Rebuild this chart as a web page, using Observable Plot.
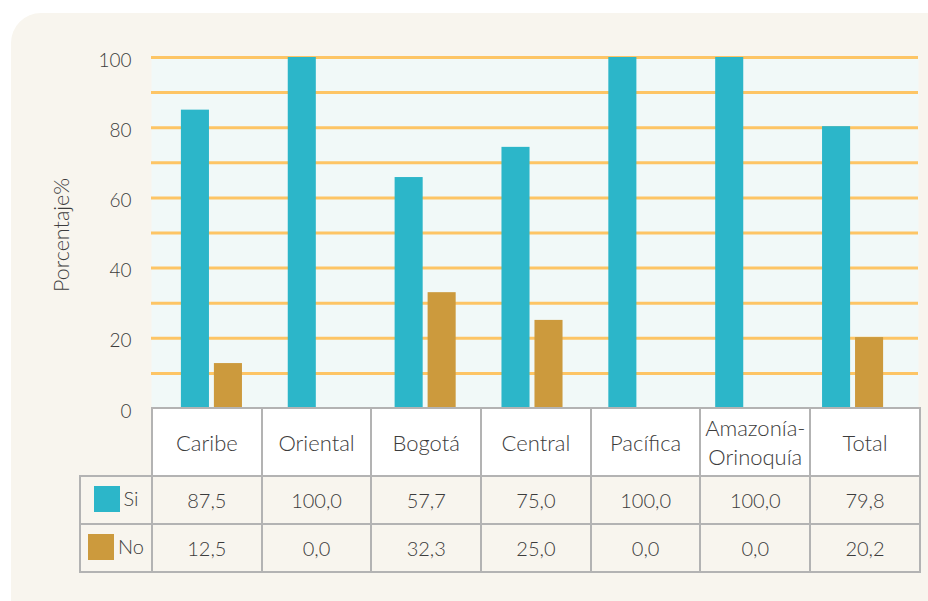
<!DOCTYPE html>
<html>
<head>
<meta charset="utf-8">
<script src="https://cdn.jsdelivr.net/npm/d3@7"></script>
<script src="https://cdn.jsdelivr.net/npm/@observablehq/plot@0.6"></script>
<style>
  html, body { margin: 0; padding: 0; background: #ffffff; }
  #wrap { position: relative; width: 928px; height: 601px; overflow: hidden; font-family: Lato, "Open Sans", sans-serif; font-weight: 300; color: #3c3c3c; }
  #panel { position: absolute; left: 11px; top: 13px; width: 960px; height: 640px; background: #f8f5ee; border-top-left-radius: 30px; }
  #chart { position: absolute; left: 0; top: 0; }
  #tbl { position: absolute; left: 79px; top: 407px; border-collapse: collapse; table-layout: fixed; width: 840px; }
  #tbl td { border: 2px solid #b3b3b3; text-align: center; font-size: 20px; padding: 0; color: #3c3c3c; font-weight: 300; }
  #tbl tr.head td { height: 66px; background: #ffffff; line-height: 29px; font-size: 22px; }
  #tbl tr.head td.blank { border-top: none; border-left: none; background: transparent; }
  #tbl tr.row td { height: 46px; background: #f8f5ee; }
  #tbl td.leg { white-space: nowrap; }
  .sw { display: inline-block; width: 26px; height: 26px; vertical-align: middle; margin-right: 4px; position: relative; top: -2px; }
</style>
</head>
<body>
<div id="wrap">
  <div id="panel"></div>
  <div id="chart"></div>
  <table id="tbl"></table>
</div>
<script>
// ---- data ----
const categories = ["Caribe", "Oriental", "Bogotá", "Central", "Pacífica", "Amazonía-Orinoquía", "Total"];
const headerLabels = ["Caribe", "Oriental", "Bogotá", "Central", "Pacífica", "Amazonía-<br>Orinoquía", "Total"];
const series = ["Si", "No"];
// bar heights as drawn in the chart
const siValues = [85, 100, 65.8, 74.4, 100, 100, 80.3];
const noValues = [12.8, 0, 33.0, 25.1, 0, 0, 20.2];
// values printed in the table
const siTable = ["87,5", "100,0", "57,7", "75,0", "100,0", "100,0", "79,8"];
const noTable = ["12,5", "0,0", "32,3", "25,0", "0,0", "0,0", "20,2"];
const yTicks = [0, 20, 40, 60, 80, 100];
const gridTicks = [10, 20, 30, 40, 50, 60, 70, 80, 90, 100];
const colors = {Si: "#2cb6c9", No: "#cc9a3d"};

const siData = categories.map((c, i) => ({cat: c, v: siValues[i]}));
const noData = categories.map((c, i) => ({cat: c, v: noValues[i]}));

const fontFamily = "Lato, 'Open Sans', sans-serif";

const chart = Plot.plot({
  width: 928,
  height: 430,
  marginLeft: 151,
  marginRight: 10,
  marginTop: 57,
  marginBottom: 22,
  style: {background: "transparent", fontFamily, fontSize: "19px", fontWeight: 300, color: "#3c3c3c", overflow: "visible"},
  x: {domain: categories, range: [158, 906], padding: 0, round: false, axis: null},
  y: {domain: [0, 100], range: [408, 57]},
  marks: [
    Plot.frame({fill: "#f1f9f8", stroke: null}),
    Plot.ruleY(gridTicks, {stroke: "#fdc565", strokeWidth: 3}),
    Plot.barY(siData, {x: "cat", y: "v", fill: colors.Si, insetLeft: 22.9, insetRight: 55.9}),
    Plot.barY(noData, {x: "cat", y: "v", fill: colors.No, insetLeft: 55.9, insetRight: 22.9}),
    Plot.axisY(yTicks, {tickSize: 0, tickPadding: 20, dy: 3, label: null, fontSize: "19px"}),
    Plot.text(["Porcentaje%"], {frameAnchor: "left", textAnchor: "middle", rotate: -90, dx: -89, dy: 2, fontSize: "21.5px", fill: "#3c3c3c"})
  ]
});
document.getElementById("chart").appendChild(chart);

// ---- table ----
const tbl = document.getElementById("tbl");
let html = "<colgroup><col style='width:72px'>" + categories.map(() => "<col style='width:109.7px'>").join("") + "</colgroup>";
html += "<tr class='head'><td class='blank'></td>" + headerLabels.map(h => `<td>${h}</td>`).join("") + "</tr>";
const rows = [["Si", siTable], ["No", noTable]];
for (const [name, vals] of rows) {
  html += `<tr class='row'><td class='leg'><span class='sw' style='background:${colors[name]}'></span>${name}</td>` +
    vals.map(v => `<td>${v}</td>`).join("") + "</tr>";
}
tbl.innerHTML = html;
</script>
</body>
</html>
